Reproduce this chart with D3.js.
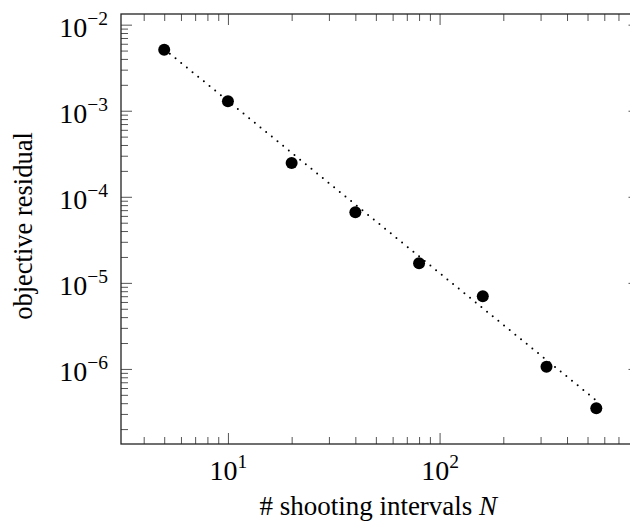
<!DOCTYPE html>
<html>
<head>
<meta charset="utf-8">
<script src="https://cdn.jsdelivr.net/npm/d3@7"></script>
<style>
  html, body { margin: 0; padding: 0; background: #fff; }
  svg { display: block; }
  text { font-family: "Liberation Serif", "Times New Roman", serif; fill: #000; }
</style>
</head>
<body>
<svg id="chart" width="630" height="525"></svg>
<script>
// ---- data ----
const intervals = [5, 10, 20, 40, 80, 160, 320, 550];
const residual  = [5.1e-3, 1.29e-3, 2.47e-4, 6.6e-5, 1.69e-5, 7.0e-6, 1.06e-6, 3.5e-7];
// dotted reference line (slope -2), endpoints
const refN   = [5, 550];
const refVal = [5.2e-3, 4.3e-7];

const xMajor = [10, 100];
const xMajorExp = ["1", "2"];
const yMajor = [1e-2, 1e-3, 1e-4, 1e-5, 1e-6];
const yMajorExp = ["\u22122", "\u22123", "\u22124", "\u22125", "\u22126"];
const xLabel = "# shooting intervals ";
const xLabelVar = "N";
const yLabel = "objective residual";

// ---- layout ----
const pL = 121, pT = 14, pR = 639.5, pB = 444;
const svg = d3.select("#chart");

function enlarged(vals) {
  const lo = Math.log10(d3.min(vals)), hi = Math.log10(d3.max(vals));
  const pad = 0.1 * (hi - lo);
  return [Math.pow(10, lo - pad), Math.pow(10, hi + pad)];
}
const x = d3.scaleLog().domain(enlarged(intervals)).range([pL, pR]);
const y = d3.scaleLog().domain(enlarged(residual)).range([pB, pT]);

function minorsFor(scale) {
  const [a, b] = scale.domain();
  const out = [];
  for (let e = Math.floor(Math.log10(a)); e <= Math.ceil(Math.log10(b)); e++) {
    for (let m = 2; m <= 9; m++) {
      const v = m * Math.pow(10, e);
      if (v >= a && v <= b) out.push(v);
    }
  }
  return out;
}
const xMinor = minorsFor(x);
const yMinor = minorsFor(y);

const tickColor = "#555";
function styleTicks(g) {
  g.select(".domain").remove();
  g.selectAll(".tick line").attr("stroke", tickColor).attr("stroke-width", 1);
}

// minor ticks (inward, all four sides)
svg.append("g").attr("transform", `translate(0,${pB})`)
  .call(d3.axisBottom(x).tickValues(xMinor).tickSize(-7).tickFormat(""))
  .call(styleTicks);
svg.append("g").attr("transform", `translate(0,${pT})`)
  .call(d3.axisTop(x).tickValues(xMinor).tickSize(-7).tickFormat(""))
  .call(styleTicks);
svg.append("g").attr("transform", `translate(${pL},0)`)
  .call(d3.axisLeft(y).tickValues(yMinor).tickSize(-7).tickFormat(""))
  .call(styleTicks);
svg.append("g").attr("transform", `translate(${pR},0)`)
  .call(d3.axisRight(y).tickValues(yMinor).tickSize(-7).tickFormat(""))
  .call(styleTicks);

// major ticks
const gxB = svg.append("g").attr("transform", `translate(0,${pB})`)
  .call(d3.axisBottom(x).tickValues(xMajor).tickSize(-11).tickFormat(""))
  .call(styleTicks);
svg.append("g").attr("transform", `translate(0,${pT})`)
  .call(d3.axisTop(x).tickValues(xMajor).tickSize(-11).tickFormat(""))
  .call(styleTicks);
const gyL = svg.append("g").attr("transform", `translate(${pL},0)`)
  .call(d3.axisLeft(y).tickValues(yMajor).tickSize(-11).tickFormat(""))
  .call(styleTicks);
svg.append("g").attr("transform", `translate(${pR},0)`)
  .call(d3.axisRight(y).tickValues(yMajor).tickSize(-11).tickFormat(""))
  .call(styleTicks);

// tick labels with superscripts
gxB.selectAll(".tick").each(function(d, i) {
  const t = d3.select(this).append("text")
    .attr("x", 0).attr("y", 36)
    .attr("text-anchor", "middle")
    .style("font-size", "28px");
  t.append("tspan").text("10");
  t.append("tspan").attr("dy", -12).style("font-size", "19.5px").text(xMajorExp[i]);
});
gyL.selectAll(".tick").each(function(d, i) {
  const t = d3.select(this).append("text")
    .attr("x", -13).attr("y", 12)
    .attr("text-anchor", "end")
    .style("font-size", "28px");
  t.append("tspan").text("10");
  t.append("tspan").attr("dy", -12).style("font-size", "19.5px").text(yMajorExp[i]);
});

// frame
svg.append("rect")
  .attr("x", pL).attr("y", pT)
  .attr("width", pR - pL).attr("height", pB - pT)
  .attr("fill", "none").attr("stroke", "#222").attr("stroke-width", 1.3);

// dotted reference line
svg.append("path")
  .datum(refN.map((n, i) => [n, refVal[i]]))
  .attr("d", d3.line().x(d => x(d[0])).y(d => y(d[1])))
  .attr("fill", "none").attr("stroke", "#000")
  .attr("stroke-width", 2).attr("stroke-linecap", "round")
  .attr("stroke-dasharray", "0 7.3");

// data markers
svg.append("g").selectAll("circle")
  .data(intervals.map((n, i) => [n, residual[i]]))
  .join("circle")
  .attr("cx", d => x(d[0])).attr("cy", d => y(d[1]))
  .attr("r", 6).attr("fill", "#000");

// axis labels
const xl = svg.append("text")
  .attr("x", (pL + pR) / 2 - 2).attr("y", 515)
  .attr("text-anchor", "middle").style("font-size", "27px");
xl.append("tspan").text(xLabel);
xl.append("tspan").style("font-style", "italic").text(xLabelVar);

svg.append("text")
  .attr("transform", `translate(32,${(pT + pB) / 2 - 3}) rotate(-90)`)
  .attr("text-anchor", "middle").style("font-size", "26.5px")
  .text(yLabel);
</script>
</body>
</html>
